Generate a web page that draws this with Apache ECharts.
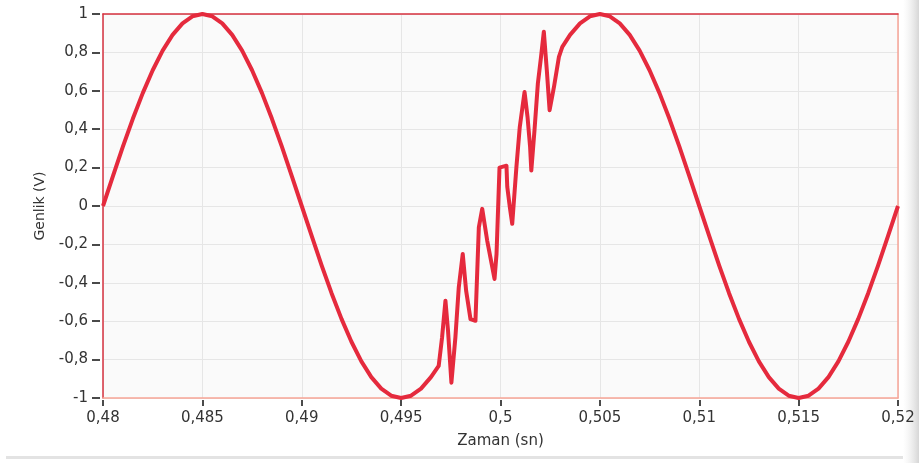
<!DOCTYPE html>
<html>
<head>
<meta charset="utf-8">
<script src="https://cdn.jsdelivr.net/npm/echarts@6/dist/echarts.min.js"></script>
<style>
  html, body { margin: 0; padding: 0; background: #ffffff; }
  #chart { width: 919px; height: 463px; }
</style>
</head>
<body>
<div id="chart"></div>
<script>
// eksen sinirlari ve adimlar
var xMin = 0.48, xMax = 0.52, xStep = 0.005;
var yMin = -1, yMax = 1, yStep = 0.2;

// bozulmadan once
var zamanOnce = [0.4800, 0.4805, 0.4810, 0.4815, 0.4820, 0.4825, 0.4830, 0.4835, 0.4840, 0.4845,
  0.4850, 0.4855, 0.4860, 0.4865, 0.4870, 0.4875, 0.4880, 0.4885, 0.4890, 0.4895,
  0.4900, 0.4905, 0.4910, 0.4915, 0.4920, 0.4925, 0.4930, 0.4935, 0.4940, 0.4945,
  0.4950, 0.4955, 0.4960, 0.4965];
var genlikOnce = [0, 0.156, 0.309, 0.454, 0.588, 0.707, 0.809, 0.891, 0.951, 0.988,
  1, 0.988, 0.951, 0.891, 0.809, 0.707, 0.588, 0.454, 0.309, 0.156,
  0, -0.156, -0.309, -0.454, -0.588, -0.707, -0.809, -0.891, -0.951, -0.988,
  -1, -0.988, -0.951, -0.891];

// bozulma bolgesi
var zamanBozulma = [0.49689, 0.49706, 0.49723, 0.49736, 0.49753, 0.49773, 0.49790, 0.49810, 0.49827, 0.49849,
  0.49874, 0.49891, 0.49908, 0.49933, 0.49970, 0.49980, 0.49995, 0.50030, 0.50034, 0.50047,
  0.50059, 0.50080, 0.50097, 0.50113, 0.50121, 0.50136, 0.50149, 0.50155, 0.50171, 0.50188,
  0.50204, 0.50218, 0.50233, 0.50247, 0.50269, 0.50294, 0.50311];
var genlikBozulma = [-0.833, -0.685, -0.493, -0.650, -0.920, -0.685, -0.424, -0.250, -0.441, -0.589,
  -0.598, -0.111, -0.015, -0.180, -0.380, -0.25, 0.20, 0.21, 0.10, -0.006,
  -0.093, 0.203, 0.412, 0.534, 0.594, 0.464, 0.307, 0.185, 0.394, 0.638,
  0.777, 0.908, 0.708, 0.499, 0.62, 0.777, 0.829];

// bozulmadan sonra
var zamanSonra = [0.5035, 0.5040, 0.5045, 0.5050, 0.5055, 0.5060, 0.5065, 0.5070, 0.5075, 0.5080,
  0.5085, 0.5090, 0.5095, 0.5100, 0.5105, 0.5110, 0.5115, 0.5120, 0.5125, 0.5130,
  0.5135, 0.5140, 0.5145, 0.5150, 0.5155, 0.5160, 0.5165, 0.5170, 0.5175, 0.5180,
  0.5185, 0.5190, 0.5195, 0.5200];
var genlikSonra = [0.891, 0.951, 0.988, 1, 0.988, 0.951, 0.891, 0.809, 0.707, 0.588,
  0.454, 0.309, 0.156, 0, -0.156, -0.309, -0.454, -0.588, -0.707, -0.809,
  -0.891, -0.951, -0.988, -1, -0.988, -0.951, -0.891, -0.809, -0.707, -0.588,
  -0.454, -0.309, -0.156, 0];

var zaman = zamanOnce.concat(zamanBozulma, zamanSonra);
var genlik = genlikOnce.concat(genlikBozulma, genlikSonra);
var veri = zaman.map(function (t, i) { return [t, genlik[i]]; });

function virgul(v) {
  return String(+v.toFixed(4)).replace('.', ',');
}

var font = 'DejaVu Sans';
var red = '#e52a3d';

var chart = echarts.init(document.getElementById('chart'));
chart.setOption({
  animation: false,
  backgroundColor: '#ffffff',
  grid: { left: 103, top: 14, width: 795, height: 384, show: true, backgroundColor: '#fafafa', borderWidth: 0 },
  graphic: [
    {
      type: 'rect', right: 0, top: 0, shape: { width: 16, height: 463 }, silent: true,
      style: { fill: new echarts.graphic.LinearGradient(0, 0, 1, 0, [
        { offset: 0, color: 'rgba(235,235,235,0)' },
        { offset: 1, color: '#d6d6d6' }
      ]) }
    },
    {
      type: 'rect', left: 6, top: 456, shape: { width: 897, height: 3 }, silent: true,
      style: { fill: '#e3e3e3' }
    }
  ],
  xAxis: [
    {
      type: 'value', min: xMin, max: xMax, interval: xStep, position: 'bottom', offset: 2,
      axisLine: { show: false, onZero: false },
      axisTick: { show: true, length: 6, lineStyle: { color: '#4a4a4a', width: 2 } },
      axisLabel: { formatter: virgul, margin: 11, fontFamily: font, fontSize: 15, color: '#333' },
      splitLine: { show: true, lineStyle: { color: '#e6e6e6', width: 1 } },
      name: 'Zaman (sn)', nameLocation: 'middle', nameGap: 34,
      nameTextStyle: { fontFamily: font, fontSize: 15, color: '#333' }
    },
    {
      type: 'value', min: xMin, max: xMax, interval: xStep, position: 'top',
      axisLine: { show: true, onZero: false, lineStyle: { color: '#d6323f', width: 1.5 } },
      axisTick: { show: false }, axisLabel: { show: false }, splitLine: { show: false }
    },
    {
      type: 'value', min: xMin, max: xMax, interval: xStep, position: 'bottom',
      axisLine: { show: true, onZero: false, lineStyle: { color: '#f7a597', width: 1.5 } },
      axisTick: { show: false }, axisLabel: { show: false }, splitLine: { show: false }
    }
  ],
  yAxis: [
    {
      type: 'value', min: yMin, max: yMax, interval: yStep, position: 'left', offset: 3,
      axisLine: { show: false, onZero: false },
      axisTick: { show: true, length: 8, lineStyle: { color: '#4a4a4a', width: 2 } },
      axisLabel: { formatter: virgul, margin: 12, fontFamily: font, fontSize: 15, color: '#333' },
      splitLine: { show: true, lineStyle: { color: '#e6e6e6', width: 1 } },
      name: 'Genlik (V)', nameLocation: 'middle', nameGap: 50,
      nameTextStyle: { fontFamily: font, fontSize: 14, color: '#333' }
    },
    {
      type: 'value', min: yMin, max: yMax, interval: yStep, position: 'left',
      axisLine: { show: true, onZero: false, lineStyle: { color: '#d6323f', width: 1.5 } },
      axisTick: { show: false }, axisLabel: { show: false }, splitLine: { show: false }
    },
    {
      type: 'value', min: yMin, max: yMax, interval: yStep, position: 'right',
      axisLine: { show: true, onZero: false, lineStyle: { color: '#f7a597', width: 1.5 } },
      axisTick: { show: false }, axisLabel: { show: false }, splitLine: { show: false }
    }
  ],
  series: [
    {
      type: 'line',
      xAxisIndex: 0,
      yAxisIndex: 0,
      data: veri,
      showSymbol: false,
      symbol: 'none',
      smooth: false,
      lineStyle: { color: red, width: 4, join: 'round' },
      z: 3
    }
  ]
});
</script>
</body>
</html>
